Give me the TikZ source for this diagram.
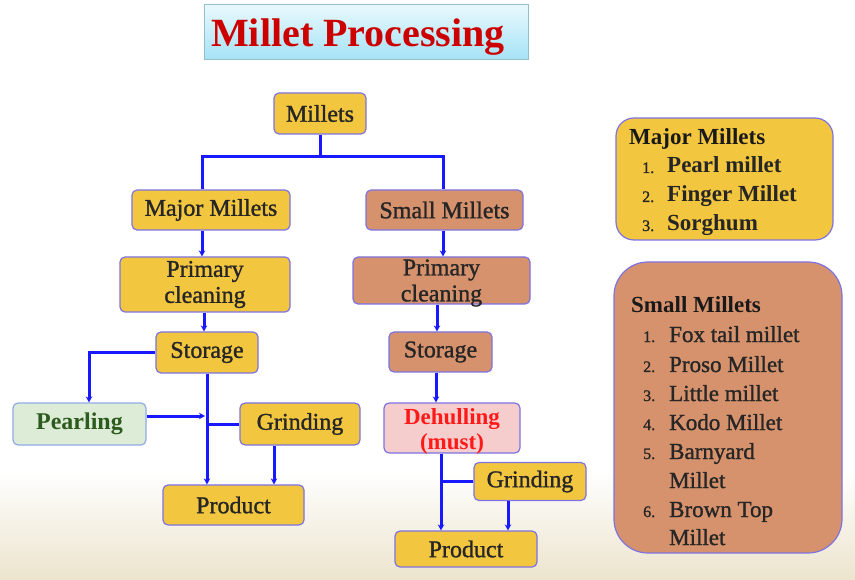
\documentclass[tikz,border=0pt]{standalone}
\usepackage{fontspec}
\setmainfont{Liberation Serif}
\newfontfamily\medfont[FakeBold=1.2]{Liberation Serif}
\usetikzlibrary{arrows.meta,calc}
\definecolor{ylw}{RGB}{243,198,63}
\definecolor{brn}{RGB}{214,146,108}
\definecolor{bord}{RGB}{125,115,225}
\definecolor{grnfill}{RGB}{220,236,214}
\definecolor{grntxt}{RGB}{45,90,30}
\definecolor{grnbord}{RGB}{145,170,230}
\definecolor{pinkfill}{RGB}{245,205,205}
\definecolor{redtxt}{RGB}{255,25,25}
\definecolor{lineblue}{RGB}{25,25,255}
\definecolor{titlered}{RGB}{205,0,0}
\definecolor{ttop}{RGB}{232,249,253}
\definecolor{tbot}{RGB}{165,226,246}
\definecolor{tbord}{RGB}{150,190,205}
\definecolor{grain}{RGB}{236,228,205}
\tikzset{
  fbox/.style={draw=bord, line width=1.2pt, rounded corners=5pt, inner sep=0pt, align=center,
    font=\medfont\fontsize{24}{26}\selectfont, text=black!85},
  ybox/.style={fbox, fill=ylw},
  bbox/.style={fbox, fill=brn},
  ln/.style={draw=lineblue, line width=3pt},
  arr/.style={ln, -{Stealth[length=6pt,width=6.5pt]}},
  ttl/.style={font=\fontsize{23}{26}\selectfont\bfseries, anchor=base west, inner sep=0pt, text=black!90},
  numl/.style={font=\medfont\fontsize{16}{18}\selectfont, anchor=base west, inner sep=0pt, text=black!85},
  itb/.style={font=\fontsize{23}{26}\selectfont\bfseries, anchor=base west, inner sep=0pt, text=black!85},
  itr/.style={font=\medfont\fontsize{23}{26}\selectfont, anchor=base west, inner sep=0pt, text=black!85}
}
\begin{document}
\begin{tikzpicture}[x=1pt,y=-1pt]
\useasboundingbox (0,0) rectangle (855,580);
\fill[white] (0,0) rectangle (855,580);
\shade[top color=white, bottom color=grain] (0,470) rectangle (855,580);

% title
\node[draw=tbord, line width=1pt, top color=ttop, bottom color=tbot, minimum width=324pt, minimum height=55pt, inner sep=0pt] (tbox) at (366,32.5) {};
\node[font=\fontsize{40}{42}\selectfont\bfseries, text=titlered, inner sep=0pt] (title) at (358,37) {Millet Processing};

% flow boxes
\node[ybox, minimum width=92pt, minimum height=41pt] (mil) at (320,113.5) {Millets};
\node[ybox, minimum width=158pt, minimum height=40pt] (maj) at (211,210) {Major Millets};
\node[bbox, minimum width=157pt, minimum height=40pt] (sm) at (444.5,210) {Small Millets};
\node[ybox, minimum width=170pt, minimum height=55pt] (pc1) at (205,284.5) {Primary\\cleaning};
\node[bbox, minimum width=177pt, minimum height=47pt] (pc2) at (441.5,280.5) {};
\node[font=\medfont\fontsize{24}{26}\selectfont, align=center, inner sep=0pt, text=black!85] (pc2t) at (441.5,283) {Primary\\cleaning};
\node[ybox, minimum width=102pt, minimum height=41pt] (st1) at (207,352.5) {Storage};
\node[bbox, minimum width=103pt, minimum height=40pt] (st2) at (440.5,352) {Storage};
\node[fbox, fill=grnfill, draw=grnbord, minimum width=133pt, minimum height=42pt, text=grntxt, font=\fontsize{24}{26}\selectfont\bfseries] (pea) at (79.5,424) {Pearling};
\node[ybox, minimum width=120pt, minimum height=42pt] (gr1) at (300,424) {Grinding};
\node[ybox, minimum width=141pt, minimum height=40pt] (pr1) at (233.5,505) {Product};
\node[fbox, fill=pinkfill, minimum width=136pt, minimum height=50pt] (deh) at (452,428) {};
\node[font=\fontsize{23}{25}\selectfont\bfseries, align=center, inner sep=0pt, text=redtxt] (deht) at (452,431) {Dehulling\\(must)};
\node[ybox, minimum width=112pt, minimum height=38pt] (gr2) at (530,481.5) {Grinding};
\node[ybox, minimum width=142pt, minimum height=36pt] (pr2) at (466,549) {Product};

% connectors
\coordinate (j0) at (320,157);
\draw[ln] (mil.south) -- (j0);
\draw[ln] ([xshift=-9pt]maj.north) |- (j0) -| ([xshift=-1.5pt]sm.north);
\draw[arr] ([xshift=-9pt]maj.south) -- ([xshift=-9pt]maj.south |- pc1.north);
\draw[arr] ([xshift=-1.5pt]sm.south) -- ([xshift=-1.5pt]sm.south |- pc2.north);
\draw[arr] ([xshift=-1pt]pc1.south) -- ([xshift=-1pt]pc1.south |- st1.north);
\draw[arr] ([xshift=-4.5pt]pc2.south) -- ([xshift=-4.5pt]pc2.south |- st2.north);
\draw[arr] (st1.west) -| ([xshift=9.5pt]pea.north);
\draw[arr] (st1.south) -- (st1.south |- pr1.north);
\coordinate (jp) at (205,416);
\draw[arr] ([yshift=8pt]pea.east) -- (jp);
\draw[ln] (gr1.west) -- (gr1.west -| st1.south);
\draw[arr] ([xshift=-26pt]gr1.south) -- ([xshift=-26pt]gr1.south |- pr1.north);
\draw[arr] ([xshift=-4.5pt]st2.south) -- ([xshift=-4.5pt]st2.south |- deh.north);
\coordinate (dj) at ([xshift=-11pt]deh.south);
\draw[arr] (dj) -- (dj |- pr2.north);
\draw[ln] (gr2.west) -- (gr2.west -| dj);
\draw[arr] ([xshift=-22pt]gr2.south) -- ([xshift=-22pt]gr2.south |- pr2.north);

% right panels
\node[draw=bord, line width=1.2pt, fill=ylw, rounded corners=18pt, minimum width=217pt, minimum height=122pt, inner sep=0pt] (mjbox) at (724.5,179) {};
\node[ttl] (mjt) at (629,145) {Major Millets};
\node[numl] (mjn1) at (642,173) {1.};
\node[itb] (mji1) at (667,173) {Pearl millet};
\node[numl] (mjn2) at (642,202) {2.};
\node[itb] (mji2) at (667,202) {Finger Millet};
\node[numl] (mjn3) at (642,231) {3.};
\node[itb] (mji3) at (667,231) {Sorghum};

\node[draw=bord, line width=1.2pt, fill=brn, rounded corners=34pt, minimum width=228pt, minimum height=291pt, inner sep=0pt] (smbox) at (728,407.5) {};
\node[ttl] (smt) at (631,313) {Small Millets};
\node[numl] (smn1) at (643,342) {1.};
\node[itr] (smi1) at (669,342) {Fox tail millet};
\node[numl] (smn2) at (643,372) {2.};
\node[itr] (smi2) at (669,372) {Proso Millet};
\node[numl] (smn3) at (643,401) {3.};
\node[itr] (smi3) at (669,401) {Little millet};
\node[numl] (smn4) at (643,430) {4.};
\node[itr] (smi4) at (669,430) {Kodo Millet};
\node[numl] (smn5) at (643,459) {5.};
\node[itr] (smi5) at (669,459) {Barnyard};
\node[itr] (smi5b) at (669,488) {Millet};
\node[numl] (smn6) at (643,517) {6.};
\node[itr] (smi6) at (669,517) {Brown Top};
\node[itr] (smi6b) at (669,545) {Millet};
\end{tikzpicture}
\end{document}
